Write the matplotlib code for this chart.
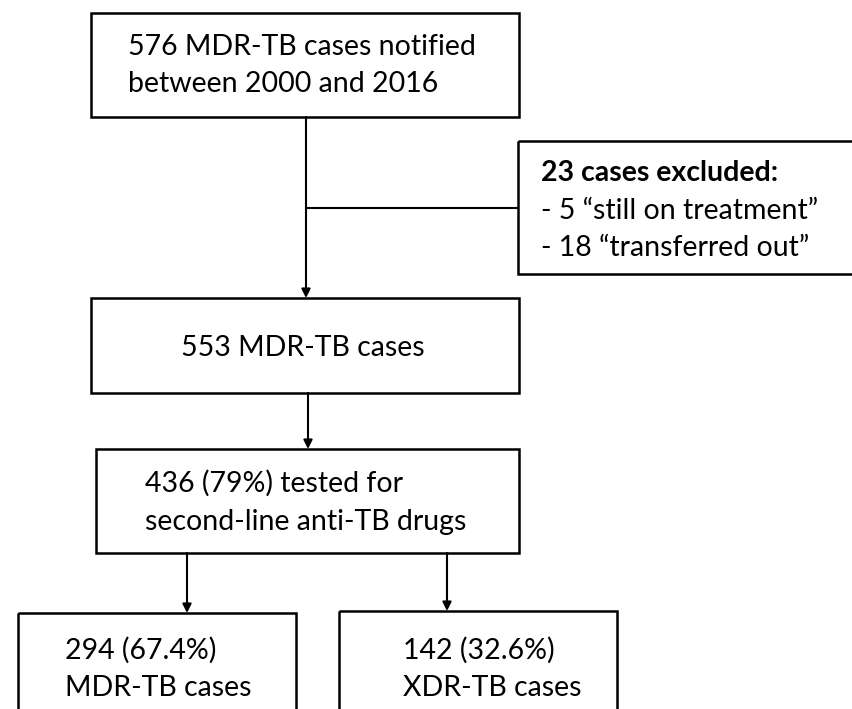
import matplotlib
matplotlib.use("Agg")
import matplotlib.pyplot as plt
from matplotlib.patches import Rectangle

plt.rcParams['font.family'] = ['Lato', 'DejaVu Sans']

# box texts
top_lines = ["576 MDR-TB cases notified", "between 2000 and 2016"]
excl_title = "23 cases excluded:"
excl_lines = ["- 5 \u201cstill on treatment\u201d", "- 18 \u201ctransferred out\u201d"]
mid_label = "553 MDR-TB cases"
tested_lines = ["436 (79%) tested for", "second-line anti-TB drugs"]
left_lines = ["294 (67.4%)", "MDR-TB cases"]
right_lines = ["142 (32.6%)", "XDR-TB cases"]

W, H = 853, 709
fig = plt.figure(figsize=(W / 100, H / 100), dpi=100)
ax = fig.add_axes([0, 0, 1, 1])
ax.set_xlim(0, W)
ax.set_ylim(H, 0)
ax.axis('off')

LW = 1.8
FS = 20.5


def box(x0, y0, x1, y1):
    ax.add_patch(Rectangle((x0, y0), x1 - x0, y1 - y0, fill=False,
                           edgecolor='black', lw=LW))


def arrow(x, y0, y1):
    ax.annotate('', xy=(x, y1), xytext=(x, y0),
                arrowprops=dict(arrowstyle='-|>', color='black', lw=1.5,
                                mutation_scale=13, shrinkA=0, shrinkB=0))


# boxes
box(91, 13, 519, 117)
box(518, 141, 858, 274)
box(91, 298, 519, 393)
box(96, 449, 519, 553)
box(18, 613, 296, 720)
box(339, 611, 617, 720)

# connectors
arrow(306, 117, 298)
ax.plot([306, 518], [208, 208], color='black', lw=1.5)
arrow(308, 393, 449)
arrow(187, 553, 613)
arrow(447, 553, 611)

# texts
for yy, s in zip([47, 84], top_lines):
    ax.text(128, yy, s, fontsize=FS, va='center', ha='left')

ax.text(541, 173, excl_title, fontsize=FS, va='center', ha='left', fontweight='bold')
for yy, s in zip([211, 248], excl_lines):
    ax.text(541, yy, s, fontsize=FS, va='center', ha='left')

ax.text(303, 348, mid_label, fontsize=FS, va='center', ha='center')

for yy, s in zip([483, 522], tested_lines):
    ax.text(145, yy, s, fontsize=FS, va='center', ha='left')

for yy, a, b in zip([650, 688], left_lines, right_lines):
    ax.text(65, yy, a, fontsize=FS, va='center', ha='left')
    ax.text(403, yy, b, fontsize=FS, va='center', ha='left')

fig.savefig('out.png', dpi=100, facecolor='white')
